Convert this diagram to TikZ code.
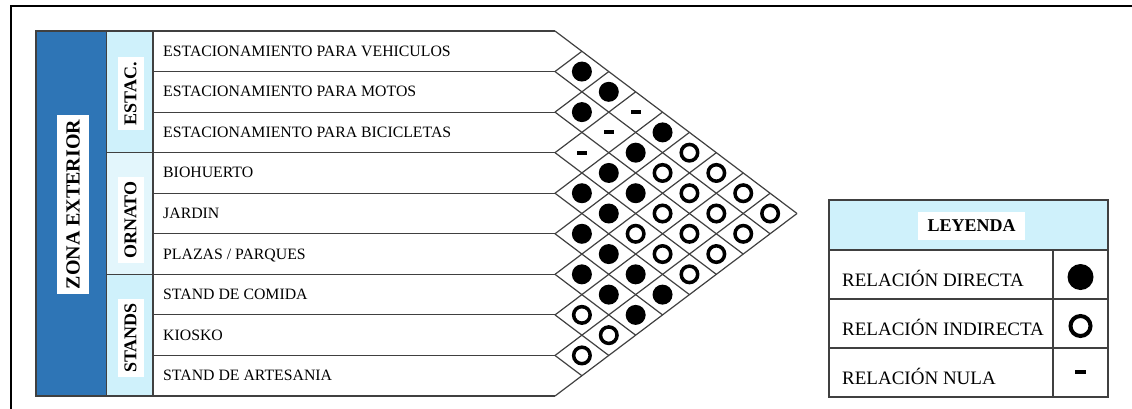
\documentclass[tikz,border=0pt]{standalone}
\usepackage{fontspec}
\setmainfont{Liberation Serif}
\definecolor{zblue}{HTML}{2E75B6}
\definecolor{lblue}{HTML}{CFF1FB}
\definecolor{lblue2}{HTML}{E3F6FC}
\definecolor{gline}{HTML}{404040}
\begin{document}
\begin{tikzpicture}[x=1pt,y=-1pt,
  grid/.style={draw=gline, line width=1.2pt},
  rowlbl/.style={anchor=base west, font=\fontsize{15.8}{18}\selectfont, inner sep=0pt},
  leglbl/.style={anchor=base west, font=\fontsize{19}{22}\selectfont, inner sep=0pt},
  vlbl/.style={rotate=90, fill=white, font=\bfseries\fontsize{18}{20}\selectfont, inner sep=0pt, minimum height=26pt},
  symfull/.style={circle, fill=black, minimum size=20pt, inner sep=0pt},
  symring/.style={circle, draw=black, fill=white, line width=3.5pt, minimum size=16.5pt, inner sep=0pt},
  symnull/.style={rectangle, fill=black, minimum width=10pt, minimum height=4pt, inner sep=0pt}
]
\useasboundingbox (0,0) rectangle (1132,408);
% outer frame
\draw[line width=1.6pt] (11,410) -- (11,6) -- (1134,6);

% columns
\fill[zblue] (36,31) rectangle (106.5,396);
\fill[lblue] (106.5,31) rectangle (153,152.67);
\fill[lblue2] (106.5,152.67) rectangle (153,274.33);
\fill[lblue] (106.5,274.33) rectangle (153,396);
\draw[grid] (36,31) rectangle (153,396);
\draw[grid] (106.5,31) -- (106.5,396);
\draw[grid] (106.5,152.67) -- (153,152.67);
\draw[grid] (106.5,274.33) -- (153,274.33);

\node[vlbl, font=\bfseries\fontsize{20}{22}\selectfont, minimum width=179pt, minimum height=32pt] (zona) at (73,204.5) {ZONA EXTERIOR};
\node[vlbl, minimum width=73pt] (estac) at (130.5,93.5) {ESTAC.};
\node[vlbl, minimum width=86pt] (ornato) at (130.5,220) {ORNATO};
\node[vlbl, minimum width=78pt] (stands) at (130.5,338) {STANDS};

% row lines and diamond grid
\foreach \k in {0,...,9}{
  \pgfmathsetmacro{\yk}{31+\k*40.5556}
  \draw[grid] (153,\yk) -- (555,\yk);
  \draw[grid] (555,\yk) -- ({555+(396-\yk)/2*1.326},{(\yk+396)/2});
  \draw[grid] (555,\yk) -- ({555+(\yk-31)/2*1.326},{(\yk+31)/2});
}

% row labels
\foreach \i/\t in {0/{ESTACIONAMIENTO PARA VEHICULOS},1/{ESTACIONAMIENTO PARA MOTOS},2/{ESTACIONAMIENTO PARA BICICLETAS},3/{BIOHUERTO},4/{JARDIN},5/{PLAZAS / PARQUES},6/{STAND DE COMIDA},7/{KIOSKO},8/{STAND DE ARTESANIA}}{
  \node[rowlbl] (r\i) at (163,{31+(\i+0.5)*40.5556+5}) {\t};
}

% relation symbols
\foreach \i/\j/\s in {
  0/1/symfull,1/2/symfull,2/3/symnull,3/4/symfull,4/5/symfull,5/6/symfull,6/7/symring,7/8/symring,
  0/2/symfull,1/3/symnull,2/4/symfull,3/5/symfull,4/6/symfull,5/7/symfull,6/8/symring,
  0/3/symnull,1/4/symfull,2/5/symfull,3/6/symring,4/7/symfull,5/8/symfull,
  0/4/symfull,1/5/symring,2/6/symring,3/7/symring,4/8/symfull,
  0/5/symring,1/6/symring,2/7/symring,3/8/symring,
  0/6/symring,1/7/symring,2/8/symring,
  0/7/symring,1/8/symring,
  0/8/symring}{
  \node[\s] (c\i-\j) at ({555+(\j-\i)*26.889},{31+((\i+\j)/2+0.5)*40.5556}) {};
}

% legend
\fill[lblue] (829,200) rectangle (1108,250);
\draw[grid] (829,200) rectangle (1108,397);
\draw[grid] (829,250) -- (1108,250);
\draw[grid] (829,299) -- (1108,299);
\draw[grid] (829,348) -- (1108,348);
\draw[grid] (1053,250) -- (1053,397);
\node[fill=white, font=\bfseries\fontsize{18}{20}\selectfont, minimum width=107pt, minimum height=28pt, inner sep=0pt] (ley) at (971.5,226) {LEYENDA};
\node[leglbl] (l1) at (842,286) {RELACIÓN DIRECTA};
\node[leglbl] (l2) at (842,335) {RELACIÓN INDIRECTA};
\node[leglbl] (l3) at (842,384) {RELACIÓN NULA};
\node[symfull, minimum size=26pt] (s1) at (1080.5,277) {};
\node[symring, minimum size=20pt, line width=4pt] (s2) at (1080.5,326) {};
\node[symnull, minimum width=11pt] (s3) at (1080.5,372) {};
\end{tikzpicture}
\end{document}
